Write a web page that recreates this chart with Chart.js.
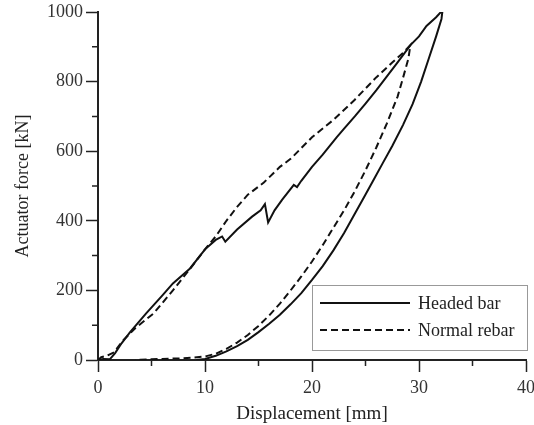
<!DOCTYPE html>
<html>
<head>
<meta charset="utf-8">
<script src="https://cdn.jsdelivr.net/npm/chart.js@4.4.1/dist/chart.umd.min.js"></script>
<style>
  html, body { margin: 0; padding: 0; background: #fff; }
  #wrap { width: 534px; height: 425px; }
</style>
</head>
<body>
<div id="wrap"><canvas id="mycanvas" width="534" height="425"></canvas></div>
<script>
// Curva fuerza-desplazamiento (carga y descarga)
let headedX = [0, 0.5, 1.1, 1.6, 2.2, 3, 4.5, 6, 7, 8.6, 10, 11, 11.6, 11.9, 13, 14.4, 15.2, 15.6, 15.9, 16.5, 17.2, 18.3, 18.6, 19, 20, 21, 22.3, 23, 24, 25, 26, 27, 28, 29.2, 30, 30.7, 31.6, 32.2,
               32.1, 31.6, 30.9, 30.2, 29.4, 28.5, 27.5, 26.6, 25.8, 24.9, 24, 23, 22, 21, 20, 19, 18, 17, 16, 15, 14, 13, 12, 11, 10, 9.2];
let headedY = [0, 3, 2, 20, 48, 80, 134, 185, 220, 263, 318, 345, 355, 340, 375, 412, 430, 448, 395, 430, 460, 503, 497, 515, 555, 590, 640, 665, 700, 737, 775, 815, 855, 905, 930, 960, 985, 1005,
               980, 930, 865, 800, 735, 675, 615, 565, 520, 470, 420, 365, 315, 270, 230, 192, 160, 130, 104, 80, 58, 40, 25, 12, 3, 0];

let rebarX = [0, 0.3, 0.8, 1.5, 2.3, 3.5, 5.2, 7, 8.5, 10, 11, 12, 13, 14, 15.5, 17, 18, 20, 22, 24, 26, 27.5, 28.5, 29.2,
              29.0, 28.5, 28, 27, 26, 25, 24, 23, 22, 21, 20, 19, 18, 17, 16, 15, 14, 13, 12, 11, 10, 9, 8, 7, 6, 5, 4, 3.5];
let rebarY = [0, 8, 12, 22, 55, 92, 134, 200, 258, 318, 355, 400, 440, 475, 510, 555, 578, 640, 690, 748, 812, 855, 882, 905,
              865, 810, 757, 680, 610, 545, 485, 430, 380, 330, 283, 240, 200, 162, 128, 98, 72, 50, 32, 18, 10, 7, 5, 4, 3, 2, 1, 0];

let xTickLabels = [0, 10, 20, 30, 40];
let yTickLabels = [0, 200, 400, 600, 800, 1000];

let serif = "'Liberation Serif', 'Times New Roman', serif";

function toPoints(xs, ys) {
    let pts = [];
    for (let i = 0; i < xs.length; i++) {
        pts.push({ x: xs[i], y: ys[i] });
    }
    return pts;
}

// ticks menores (mas cortos) en los valores sin etiqueta
const minorTicks = {
    id: 'minorTicks',
    afterDraw(chart) {
        const ctx = chart.ctx;
        const xs = chart.scales.x;
        const ys = chart.scales.y;
        ctx.save();
        ctx.strokeStyle = '#222';
        ctx.lineWidth = 1.5;
        ctx.beginPath();
        xs.ticks.forEach(t => {
            if (!xTickLabels.includes(t.value)) {
                let px = xs.getPixelForValue(t.value);
                ctx.moveTo(px, xs.top);
                ctx.lineTo(px, xs.top + 6);
            }
        });
        ys.ticks.forEach(t => {
            if (!yTickLabels.includes(t.value)) {
                let py = ys.getPixelForValue(t.value);
                ctx.moveTo(ys.right, py);
                ctx.lineTo(ys.right - 6, py);
            }
        });
        ctx.stroke();
        ctx.restore();
    }
};

// leyenda dentro del area del grafico, abajo a la derecha
const boxLegend = {
    id: 'boxLegend',
    afterDraw(chart) {
        const ctx = chart.ctx;
        const area = chart.chartArea;
        let w = 215, h = 65;
        let left = area.right + 1 - w;
        let top = area.bottom - 10 - h;
        ctx.save();
        ctx.fillStyle = '#fff';
        ctx.fillRect(left, top, w, h);
        ctx.strokeStyle = '#999';
        ctx.lineWidth = 1;
        ctx.strokeRect(left + 0.5, top + 0.5, w, h);
        chart.data.datasets.forEach((ds, i) => {
            let y = top + 18 + i * 27;
            ctx.strokeStyle = ds.borderColor;
            ctx.lineWidth = ds.borderWidth;
            ctx.setLineDash(ds.borderDash || []);
            ctx.beginPath();
            ctx.moveTo(left + 8, y);
            ctx.lineTo(left + 98, y);
            ctx.stroke();
            ctx.setLineDash([]);
            ctx.fillStyle = '#222';
            ctx.font = '18px ' + serif;
            ctx.textBaseline = 'middle';
            ctx.fillText(ds.label, left + 106, y + 1);
        });
        ctx.restore();
    }
};

let chartData = {
    datasets: [{
            label: 'Headed bar',
            data: toPoints(headedX, headedY),
            showLine: true,
            pointRadius: 0,
            borderColor: '#111',
            borderWidth: 2,
            tension: 0
        },
        {
            label: 'Normal rebar',
            data: toPoints(rebarX, rebarY),
            showLine: true,
            pointRadius: 0,
            borderColor: '#111',
            borderWidth: 2,
            borderDash: [7, 4],
            tension: 0
        }
    ]
};

let LineGraph = new Chart(document.getElementById('mycanvas'), {
    type: 'scatter',
    data: chartData,
    plugins: [minorTicks, boxLegend],
    options: {
        responsive: false,
        animation: false,
        layout: { padding: { top: 12, right: 8, bottom: 0, left: 0 } },
        plugins: { legend: { display: false }, tooltip: { enabled: false } },
        scales: {
            x: {
                type: 'linear',
                min: 0,
                max: 40,
                afterFit(s) { s.height = 65; s.paddingLeft = 0; s.paddingRight = 0; },
                border: { display: true, color: '#222', width: 2 },
                grid: {
                    drawOnChartArea: false,
                    tickLength: 12,
                    tickWidth: 1.5,
                    tickColor: c => xTickLabels.includes(c.tick.value) ? '#222' : 'rgba(0,0,0,0)'
                },
                ticks: {
                    stepSize: 5,
                    autoSkip: false,
                    maxRotation: 0,
                    padding: 5,
                    color: '#333',
                    font: { family: serif, size: 18 },
                    callback: v => xTickLabels.includes(v) ? String(v) : ''
                },
                title: {
                    display: true,
                    text: 'Displacement [mm]',
                    color: '#222',
                    font: { family: serif, size: 19 },
                    padding: { top: 0, bottom: 0 }
                }
            },
            y: {
                type: 'linear',
                min: 0,
                max: 1000,
                afterFit(s) { s.width = 98; s.paddingTop = 0; s.paddingBottom = 0; },
                border: { display: true, color: '#222', width: 2 },
                grid: {
                    drawOnChartArea: false,
                    tickLength: 12,
                    tickWidth: 1.5,
                    tickColor: c => yTickLabels.includes(c.tick.value) ? '#222' : 'rgba(0,0,0,0)'
                },
                ticks: {
                    stepSize: 100,
                    autoSkip: false,
                    padding: 3,
                    color: '#333',
                    font: { family: serif, size: 18 },
                    callback: v => yTickLabels.includes(v) ? String(v) : ''
                },
                title: {
                    display: true,
                    text: 'Actuator force [kN]',
                    color: '#222',
                    font: { family: serif, size: 18 },
                    padding: { top: 12, bottom: 0 }
                }
            }
        }
    }
});
</script>
</body>
</html>
